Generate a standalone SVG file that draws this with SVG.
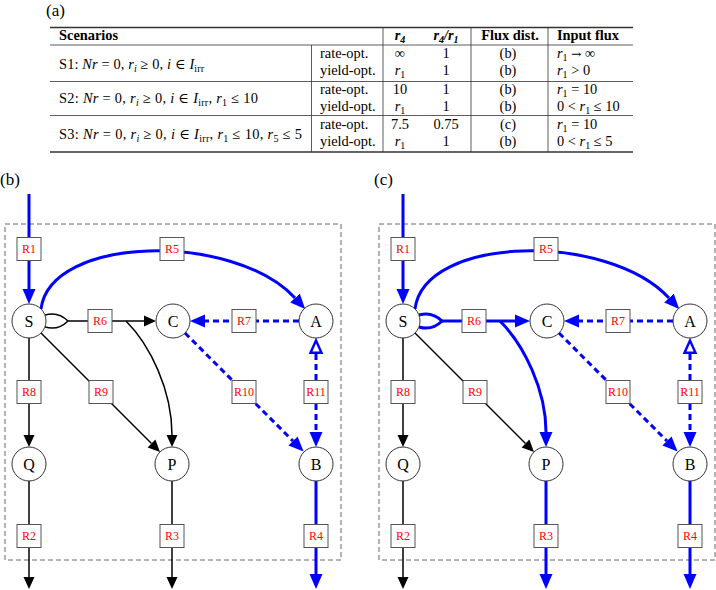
<svg xmlns="http://www.w3.org/2000/svg" width="716" height="590" viewBox="0 0 716 590">
<style>
text{font-family:"Liberation Serif","DejaVu Serif",serif;fill:#000}
.t{font-size:14.4px}
.it{font-style:italic}
.bd{font-weight:bold}
.sb{font-size:10px}
.mid{text-anchor:middle}
.pl{font-size:17px}
.arr{font-family:"DejaVu Serif",serif;font-size:12px}
.rule{stroke:#333;fill:none}
.node circle{fill:#fff;stroke:#333;stroke-width:1}
.node text{font-size:16px;text-anchor:middle}
.rbox rect{fill:#fff;stroke:#555;stroke-width:1}
.rbox text{font-size:12px;fill:#f00;text-anchor:middle}
.frame{fill:none;stroke:#666;stroke-width:1;stroke-dasharray:5 3}
.bl{stroke:#00f;stroke-width:3;fill:none}
.bk{stroke:#000;stroke-width:1.5;fill:none}
.da{stroke-dasharray:6 4}
.ab{marker-end:url(#ab)}
.ak{marker-end:url(#ak)}
</style>
<defs>
<marker id="ab" markerUnits="userSpaceOnUse" viewBox="0 -7 15 14" refX="0" refY="0" markerWidth="15" markerHeight="14" orient="auto"><path d="M0,-6.5 L15,0 L0,6.5 Z" fill="#00f"/></marker>
<marker id="ak" markerUnits="userSpaceOnUse" viewBox="0 -6 12 12" refX="0" refY="0" markerWidth="12" markerHeight="12" orient="auto"><path d="M0,-5.5 L12,0 L0,5.5 Z" fill="#000"/></marker>
<marker id="ao" markerUnits="userSpaceOnUse" viewBox="-2 -8 18 16" refX="0" refY="0" markerWidth="18" markerHeight="16" orient="auto-start-reverse"><path d="M1.2,-5.5 L13.5,0 L1.2,5.5 Z" fill="#fff" stroke="#00f" stroke-width="2.4" stroke-linejoin="miter"/></marker>
</defs>
<rect width="716" height="590" fill="#fff"/>

<!-- (a) table -->
<g id="table">
<text class="pl" x="46" y="16">(a)</text>
<path class="rule" stroke-width="1.3" d="M50 27.5H633M50 152H633"/>
<path class="rule" stroke-width="0.8" d="M50 45H633M50 81.5H633M50 115.5H633"/>
<path class="rule" stroke-width="0.8" d="M311.5 45V152M383 27.5V152M471 27.5V152M548 27.5V152"/>
<g class="t">
<text class="bd" x="59" y="40">Scenarios</text>
<text class="bd it mid" x="400" y="40">r<tspan class="sb" dy="3">4</tspan></text>
<text class="bd it mid" x="446" y="40">r<tspan class="sb" dy="3">4</tspan><tspan dy="-3">/r</tspan><tspan class="sb" dy="3">1</tspan></text>
<text class="bd mid" x="510" y="40">Flux dist.</text>
<text class="bd" x="557" y="40">Input flux</text>

<text x="59" y="68.5" textLength="145" lengthAdjust="spacing">S1: <tspan class="it">Nr</tspan> = 0, <tspan class="it">r</tspan><tspan class="sb it" dy="3">i</tspan><tspan dy="-3"> ≥ 0, </tspan><tspan class="it">i</tspan> ∈ <tspan class="it">I</tspan><tspan class="sb" dy="3">irr</tspan></text>
<text x="59" y="103" textLength="199" lengthAdjust="spacing">S2: <tspan class="it">Nr</tspan> = 0, <tspan class="it">r</tspan><tspan class="sb it" dy="3">i</tspan><tspan dy="-3"> ≥ 0, </tspan><tspan class="it">i</tspan> ∈ <tspan class="it">I</tspan><tspan class="sb" dy="3">irr</tspan><tspan dy="-3">, </tspan><tspan class="it">r</tspan><tspan class="sb" dy="3">1</tspan><tspan dy="-3"> ≤ 10</tspan></text>
<text x="59" y="139" textLength="243" lengthAdjust="spacing">S3: <tspan class="it">Nr</tspan> = 0, <tspan class="it">r</tspan><tspan class="sb it" dy="3">i</tspan><tspan dy="-3"> ≥ 0, </tspan><tspan class="it">i</tspan> ∈ <tspan class="it">I</tspan><tspan class="sb" dy="3">irr</tspan><tspan dy="-3">, </tspan><tspan class="it">r</tspan><tspan class="sb" dy="3">1</tspan><tspan dy="-3"> ≤ 10, </tspan><tspan class="it">r</tspan><tspan class="sb" dy="3">5</tspan><tspan dy="-3"> ≤ 5</tspan></text>

<text x="320" y="57.5">rate-opt.</text>
<text x="320" y="75">yield-opt.</text>
<text x="320" y="93.5">rate-opt.</text>
<text x="320" y="110.8">yield-opt.</text>
<text x="320" y="128.5">rate-opt.</text>
<text x="320" y="146">yield-opt.</text>

<text class="mid" x="400" y="57.5">∞</text>
<text class="mid" x="400" y="75"><tspan class="it">r</tspan><tspan class="sb" dy="3">1</tspan></text>
<text class="mid" x="400" y="93.5">10</text>
<text class="mid" x="400" y="110.8"><tspan class="it">r</tspan><tspan class="sb" dy="3">1</tspan></text>
<text class="mid" x="400" y="128.5">7.5</text>
<text class="mid" x="400" y="146"><tspan class="it">r</tspan><tspan class="sb" dy="3">1</tspan></text>

<text class="mid" x="446" y="57.5">1</text>
<text class="mid" x="446" y="75">1</text>
<text class="mid" x="446" y="93.5">1</text>
<text class="mid" x="446" y="110.8">1</text>
<text class="mid" x="446" y="128.5">0.75</text>
<text class="mid" x="446" y="146">1</text>

<text class="mid" x="508" y="57.5">(b)</text>
<text class="mid" x="508" y="75">(b)</text>
<text class="mid" x="508" y="93.5">(b)</text>
<text class="mid" x="508" y="110.8">(b)</text>
<text class="mid" x="508" y="128.5">(c)</text>
<text class="mid" x="508" y="146">(b)</text>

<text x="557" y="57.5"><tspan class="it">r</tspan><tspan class="sb" dy="3">1</tspan><tspan dy="-3"> </tspan><tspan class="arr">→</tspan> ∞</text>
<text x="557" y="75"><tspan class="it">r</tspan><tspan class="sb" dy="3">1</tspan><tspan dy="-3"> &gt; 0</tspan></text>
<text x="557" y="93.5"><tspan class="it">r</tspan><tspan class="sb" dy="3">1</tspan><tspan dy="-3"> = 10</tspan></text>
<text x="557" y="110.8">0 &lt; <tspan class="it">r</tspan><tspan class="sb" dy="3">1</tspan><tspan dy="-3"> ≤ 10</tspan></text>
<text x="557" y="128.5"><tspan class="it">r</tspan><tspan class="sb" dy="3">1</tspan><tspan dy="-3"> = 10</tspan></text>
<text x="557" y="146">0 &lt; <tspan class="it">r</tspan><tspan class="sb" dy="3">1</tspan><tspan dy="-3"> ≤ 5</tspan></text>
</g>
</g>

<!-- (b) panel -->
<g id="panel_b">
<text class="pl" x="0" y="185">(b)</text>
<rect class="frame" x="5" y="224" width="336" height="336"/>
<g id="connectors_b">
<path class="bl ab" d="M29 194L29 289"/>
<path class="bl ab" d="M41 309C50 235 234 232 295 298"/>
<path class="bk" d="M45 315C55 312 62 315 68 321M45 327C55 330 62 327 68 321"/>
<path class="bk ak" d="M68 321L144 321"/>
<path class="bk ak" d="M126 321C150 345 172 390 172 435"/>
<path class="bl da ab" d="M299 321L205 321"/>
<path class="bl da ab" d="M185 333L293 441"/>
<path class="bl da ab" d="M316 354L316 432" marker-start="url(#ao)"/>
<path class="bk ak" d="M29 338L29 435"/>
<path class="bk ak" d="M41 333L151.5 443.5"/>
<path class="bk ak" d="M29 481L29 577"/>
<path class="bk ak" d="M172 481L172 577"/>
<path class="bl ab" d="M316 481L316 574"/>
</g>
<g id="b_R1" class="rbox"><rect x="17" y="237.5" width="24" height="23"/><text x="29" y="253">R1</text></g>
<g id="b_R5" class="rbox"><rect x="160" y="237.5" width="24" height="23"/><text x="172" y="253">R5</text></g>
<g id="b_R6" class="rbox"><rect x="88" y="309.5" width="24" height="23"/><text x="100" y="325">R6</text></g>
<g id="b_R7" class="rbox"><rect x="232" y="309.5" width="24" height="23"/><text x="244" y="325">R7</text></g>
<g id="b_R8" class="rbox"><rect x="17" y="380.5" width="24" height="23"/><text x="29" y="396">R8</text></g>
<g id="b_R9" class="rbox"><rect x="89" y="380.5" width="24" height="23"/><text x="101" y="396">R9</text></g>
<g id="b_R10" class="rbox"><rect x="232" y="380.5" width="24" height="23"/><text x="244" y="396">R10</text></g>
<g id="b_R11" class="rbox"><rect x="304" y="380.5" width="24" height="23"/><text x="316" y="396">R11</text></g>
<g id="b_R2" class="rbox"><rect x="17" y="524.5" width="24" height="23"/><text x="29" y="540">R2</text></g>
<g id="b_R3" class="rbox"><rect x="160" y="524.5" width="24" height="23"/><text x="172" y="540">R3</text></g>
<g id="b_R4" class="rbox"><rect x="304" y="524.5" width="24" height="23"/><text x="316" y="540">R4</text></g>
<g id="b_S" class="node"><circle cx="29" cy="321" r="17"/><text x="29" y="326.5">S</text></g>
<g id="b_C" class="node"><circle cx="173" cy="321" r="17"/><text x="173" y="326.5">C</text></g>
<g id="b_A" class="node"><circle cx="316" cy="321" r="17"/><text x="316" y="326.5">A</text></g>
<g id="b_Q" class="node"><circle cx="29" cy="464" r="17"/><text x="29" y="469.5">Q</text></g>
<g id="b_P" class="node"><circle cx="172" cy="464" r="17"/><text x="172" y="469.5">P</text></g>
<g id="b_B" class="node"><circle cx="316" cy="464" r="17"/><text x="316" y="469.5">B</text></g>
</g>

<!-- (c) panel -->
<g id="panel_c" transform="translate(374 0)">
<text class="pl" x="0" y="185">(c)</text>
<rect class="frame" x="5" y="224" width="336" height="336"/>
<g id="connectors_c">
<path class="bl ab" d="M29 194L29 289"/>
<path class="bl ab" d="M41 309C50 235 234 232 295 298"/>
<path class="bl" d="M45 315C55 312 62 315 68 321M45 327C55 330 62 327 68 321"/>
<path class="bl ab" d="M68 321L141 321"/>
<path class="bl ab" d="M126 321C150 345 172 390 172 432"/>
<path class="bl da ab" d="M299 321L205 321"/>
<path class="bl da ab" d="M185 333L293 441"/>
<path class="bl da ab" d="M316 354L316 432" marker-start="url(#ao)"/>
<path class="bk ak" d="M29 338L29 435"/>
<path class="bk ak" d="M41 333L151.5 443.5"/>
<path class="bk ak" d="M29 481L29 577"/>
<path class="bl ab" d="M172 481L172 574"/>
<path class="bl ab" d="M316 481L316 574"/>
</g>
<g id="c_R1" class="rbox"><rect x="17" y="237.5" width="24" height="23"/><text x="29" y="253">R1</text></g>
<g id="c_R5" class="rbox"><rect x="160" y="237.5" width="24" height="23"/><text x="172" y="253">R5</text></g>
<g id="c_R6" class="rbox"><rect x="88" y="309.5" width="24" height="23"/><text x="100" y="325">R6</text></g>
<g id="c_R7" class="rbox"><rect x="232" y="309.5" width="24" height="23"/><text x="244" y="325">R7</text></g>
<g id="c_R8" class="rbox"><rect x="17" y="380.5" width="24" height="23"/><text x="29" y="396">R8</text></g>
<g id="c_R9" class="rbox"><rect x="89" y="380.5" width="24" height="23"/><text x="101" y="396">R9</text></g>
<g id="c_R10" class="rbox"><rect x="232" y="380.5" width="24" height="23"/><text x="244" y="396">R10</text></g>
<g id="c_R11" class="rbox"><rect x="304" y="380.5" width="24" height="23"/><text x="316" y="396">R11</text></g>
<g id="c_R2" class="rbox"><rect x="17" y="524.5" width="24" height="23"/><text x="29" y="540">R2</text></g>
<g id="c_R3" class="rbox"><rect x="160" y="524.5" width="24" height="23"/><text x="172" y="540">R3</text></g>
<g id="c_R4" class="rbox"><rect x="304" y="524.5" width="24" height="23"/><text x="316" y="540">R4</text></g>
<g id="c_S" class="node"><circle cx="29" cy="321" r="17"/><text x="29" y="326.5">S</text></g>
<g id="c_C" class="node"><circle cx="173" cy="321" r="17"/><text x="173" y="326.5">C</text></g>
<g id="c_A" class="node"><circle cx="316" cy="321" r="17"/><text x="316" y="326.5">A</text></g>
<g id="c_Q" class="node"><circle cx="29" cy="464" r="17"/><text x="29" y="469.5">Q</text></g>
<g id="c_P" class="node"><circle cx="172" cy="464" r="17"/><text x="172" y="469.5">P</text></g>
<g id="c_B" class="node"><circle cx="316" cy="464" r="17"/><text x="316" y="469.5">B</text></g>
</g>
</svg>
